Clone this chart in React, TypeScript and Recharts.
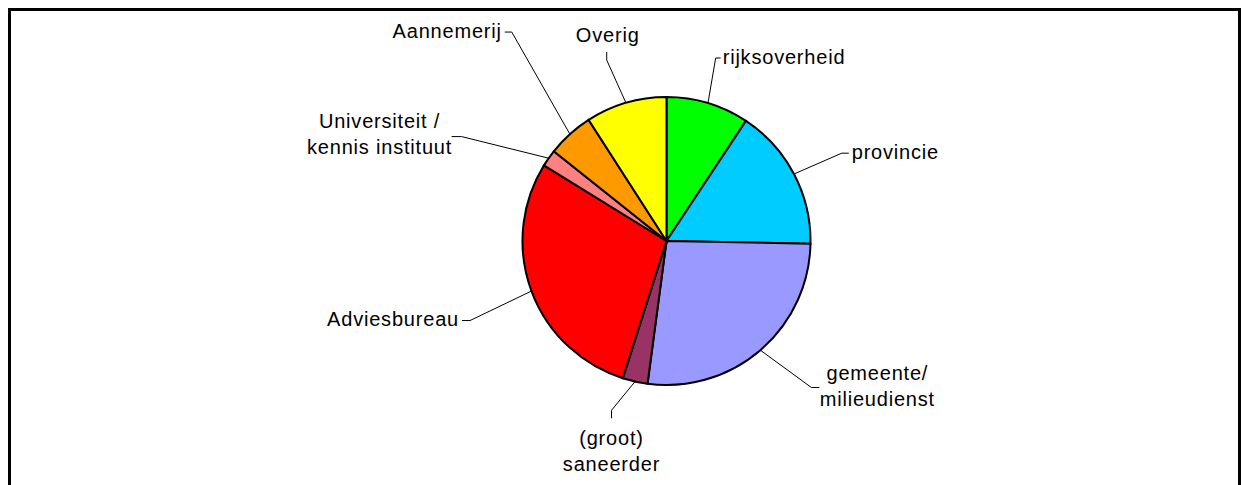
import { PieChart, Pie, Cell } from 'recharts';

// slices clockwise from 12 o'clock
const categories = [
  'rijksoverheid',
  'provincie',
  'gemeente/\nmilieudienst',
  '(groot)\nsaneerder',
  'Adviesbureau',
  'Universiteit /\nkennis instituut',
  'Aannemerij',
  'Overig',
];
const shares = [9.3, 16.0, 26.8, 2.8, 28.9, 1.9, 5.2, 9.1];
const sliceColors = ['#00FF00', '#00CCFF', '#9999FF', '#993366', '#FF0000', '#FF8080', '#FF9900', '#FFFF00'];

const data = categories.map((name, i) => ({ name, value: shares[i] }));

// leader-line layout per label: elbow = angle tweak (deg, clockwise) + radius,
// tick = short end segment, text = offset of the text from the tick end
const labelLayout = [
  { da: -1.7, r: 189.5, tick: [5, 0], text: [2, 6], anchor: 'start' },
  { da: 1.1, r: 196, tick: [7, 0], text: [3, 6], anchor: 'start' },
  { da: -4.0, r: 206, tick: [8, 0], text: [58, -7.7], anchor: 'middle' },
  { da: 5.4, r: 178, tick: [0, 8], text: [0, 27], anchor: 'middle' },
  { da: -1.7, r: 212, tick: [-8, 0], text: [-3, 5], anchor: 'end' },
  { da: -8.1, r: 230, tick: [-10, 0], text: [-72, -8.4], anchor: 'middle' },
  { da: 5.6, r: 260, tick: [-7, 0], text: [-3, 6], anchor: 'end' },
  { da: -1.9, r: 190.6, tick: [0, -8], text: [1, -10], anchor: 'middle' },
];

const RAD = Math.PI / 180;
const polar = (cx: number, cy: number, r: number, a: number) => ({
  x: cx + r * Math.cos(-a * RAD),
  y: cy + r * Math.sin(-a * RAD),
});

const total = shares.reduce((s, v) => s + v, 0);
const fallbackMid = (i: number) => {
  const before = shares.slice(0, i).reduce((s, v) => s + v, 0);
  return 90 - ((before + shares[i] / 2) / total) * 360;
};

const renderLabel = (props: any) => {
  const { cx, cy, outerRadius, index } = props;
  const mid = typeof props.midAngle === 'number' ? props.midAngle : fallbackMid(index);
  const L = labelLayout[index];
  const start = polar(cx, cy, outerRadius, mid);
  const elbow = polar(cx, cy, L.r, mid - L.da);
  const end = { x: elbow.x + L.tick[0], y: elbow.y + L.tick[1] };
  const tx = end.x + L.text[0];
  const ty = end.y + L.text[1];
  const lines = categories[index].split('\n');
  return (
    <g key={`lbl-${index}`}>
      <polyline
        points={`${start.x},${start.y} ${elbow.x},${elbow.y} ${end.x},${end.y}`}
        fill="none"
        stroke="#000"
        strokeWidth={1}
      />
      <text
        x={tx}
        y={ty}
        textAnchor={L.anchor}
        fontSize={20}
        letterSpacing={0.8}
        fill="#000"
        fontFamily="'Liberation Sans', Arial, sans-serif"
      >
        {lines.map((ln, i) => (
          <tspan key={i} x={tx} dy={i === 0 ? 0 : 26}>
            {ln}
          </tspan>
        ))}
      </text>
    </g>
  );
};

export default function App() {
  return (
    <>
      <div
        style={{
          position: 'fixed',
          left: 8,
          top: 8,
          width: 1233,
          height: 500,
          boxSizing: 'border-box',
          borderTop: '3px solid #000',
          borderLeft: '3px solid #000',
          borderRight: '3px solid #000',
          background: '#fff',
        }}
      />
      <div style={{ position: 'fixed', left: 0, top: 0 }}>
        <PieChart width={1241} height={485} margin={{ top: 0, right: 0, bottom: 0, left: 0 }}>
          <Pie
            data={data}
            dataKey="value"
            nameKey="name"
            cx={666.5}
            cy={241}
            outerRadius={144}
            startAngle={90}
            endAngle={-270}
            stroke="#000"
            strokeWidth={2}
            labelLine={false}
            label={renderLabel}
            isAnimationActive={false}
          >
            {data.map((d, i) => (
              <Cell key={d.name} fill={sliceColors[i]} />
            ))}
          </Pie>
        </PieChart>
      </div>
    </>
  );
}
